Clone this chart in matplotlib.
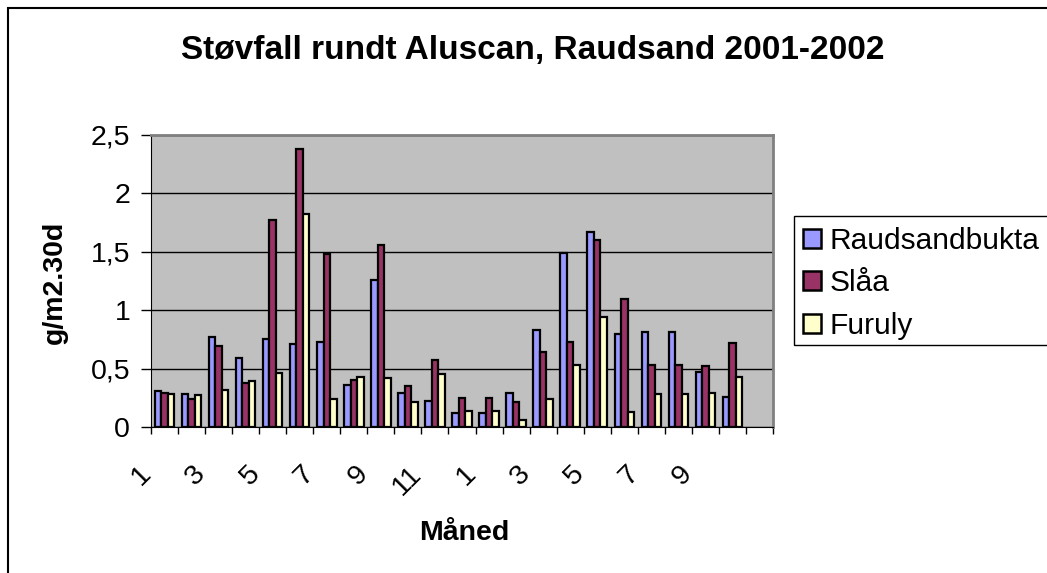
import matplotlib
matplotlib.use("Agg")
import matplotlib.pyplot as plt
import matplotlib.transforms as mtransforms
from matplotlib.patches import Rectangle, Patch
import numpy as np

plt.rcParams['font.family'] = ['Liberation Sans', 'DejaVu Sans']

# ---- data ----
months = ["1", "2", "3", "4", "5", "6", "7", "8", "9", "10", "11", "12",
          "1", "2", "3", "4", "5", "6", "7", "8", "9", "10", ""]
raudsandbukta = [0.31, 0.28, 0.77, 0.59, 0.75, 0.71, 0.73, 0.36, 1.26, 0.29, 0.22, 0.12,
                 0.12, 0.29, 0.83, 1.49, 1.67, 0.80, 0.81, 0.81, 0.47, 0.26, np.nan]
slaa = [0.29, 0.24, 0.69, 0.38, 1.77, 2.38, 1.48, 0.40, 1.56, 0.35, 0.57, 0.25,
        0.25, 0.21, 0.64, 0.73, 1.60, 1.10, 0.53, 0.53, 0.52, 0.72, np.nan]
furuly = [0.28, 0.27, 0.32, 0.39, 0.46, 1.82, 0.24, 0.43, 0.42, 0.21, 0.45, 0.14,
          0.14, 0.06, 0.24, 0.53, 0.94, 0.13, 0.28, 0.28, 0.29, 0.43, np.nan]
series_names = ["Raudsandbukta", "Slåa", "Furuly"]
series_colors = ["#9999FF", "#993366", "#FFFFCC"]
yticks = [0, 0.5, 1, 1.5, 2, 2.5]
ytick_labels = ["0", "0,5", "1", "1,5", "2", "2,5"]

W, H = 1047, 573
fig = plt.figure(figsize=(W / 100, H / 100), dpi=100)

# outer chart frame (right and bottom edges lie outside the picture)
fig.patches.append(Rectangle((8 / W, -0.05), 1.1, 1.05 - 8.5 / H,
                             transform=fig.transFigure, fill=False,
                             edgecolor="black", linewidth=1.5))

ax = fig.add_axes([151 / W, 1 - 427 / H, (773 - 151) / W, (427 - 135) / H])
ax.set_facecolor("#C0C0C0")

n = len(months)
x = np.arange(n)
bw = 0.24
for k, (vals, name, col) in enumerate(zip([raudsandbukta, slaa, furuly], series_names, series_colors)):
    ax.bar(x + (k - 1) * bw, vals, width=bw, color=col, edgecolor="black",
           linewidth=1.6, label=name, zorder=3)

ax.set_xlim(-0.5, n - 0.5)
ax.set_ylim(0, 2.5)
ax.set_yticks(yticks)
ax.set_yticklabels(ytick_labels, fontsize=20.5)
ax.yaxis.grid(True, color="black", linewidth=1.0, zorder=1)
ax.set_axisbelow(True)
ax.tick_params(axis="y", direction="out", length=7, width=1, pad=8)

# category boundary ticks
ax.set_xticks(np.arange(n + 1) - 0.5)
ax.set_xticklabels([])
ax.tick_params(axis="x", which="major", direction="out", length=5, width=1)
# labels at centers (every other)
ax.set_xticks(x, minor=True)
ax.set_xticklabels([m if i % 2 == 0 else "" for i, m in enumerate(months)], minor=True,
                   fontsize=20.5, rotation=45, ha="right", va="center",
                   rotation_mode="anchor")
ax.tick_params(axis="x", which="minor", length=0, pad=31)
offset = mtransforms.ScaledTranslation(-17 / 100, 0, fig.dpi_scale_trans)
for lab in ax.get_xticklabels(minor=True):
    lab.set_transform(lab.get_transform() + offset)

for side in ["top", "right"]:
    ax.spines[side].set_color("#808080")
    ax.spines[side].set_linewidth(2)
ax.spines["left"].set_color("black")
ax.spines["bottom"].set_color("black")

fig.text(533 / W, 1 - 50 / H, "Støvfall rundt Aluscan, Raudsand 2001-2002",
         ha="center", va="center", fontsize=24, fontweight="bold")
fig.text(55 / W, 1 - 282 / H, "g/m2.30d", ha="center", va="center",
         rotation=90, fontsize=20.5, fontweight="bold")
fig.text(464 / W, 1 - 533 / H, "Måned", ha="center", va="center",
         fontsize=20.5, fontweight="bold")

handles = [Patch(facecolor=c, edgecolor="black", linewidth=1.8) for c in series_colors]
leg = fig.legend(handles, series_names, loc="upper left",
                 bbox_to_anchor=(794 / W, 1 - 218 / H), fontsize=21.5,
                 frameon=False,
                 handlelength=0.6, handleheight=0.6, handletextpad=0.3,
                 labelspacing=0.48, borderpad=0.3, borderaxespad=0)
# legend box (its right edge runs past the picture)
fig.patches.append(Rectangle((794 / W, 1 - 345 / H), 0.3, (345 - 216) / H,
                             transform=fig.transFigure, fill=False,
                             edgecolor="black", linewidth=1.0, zorder=0))

fig.savefig("out.png", dpi=100)
